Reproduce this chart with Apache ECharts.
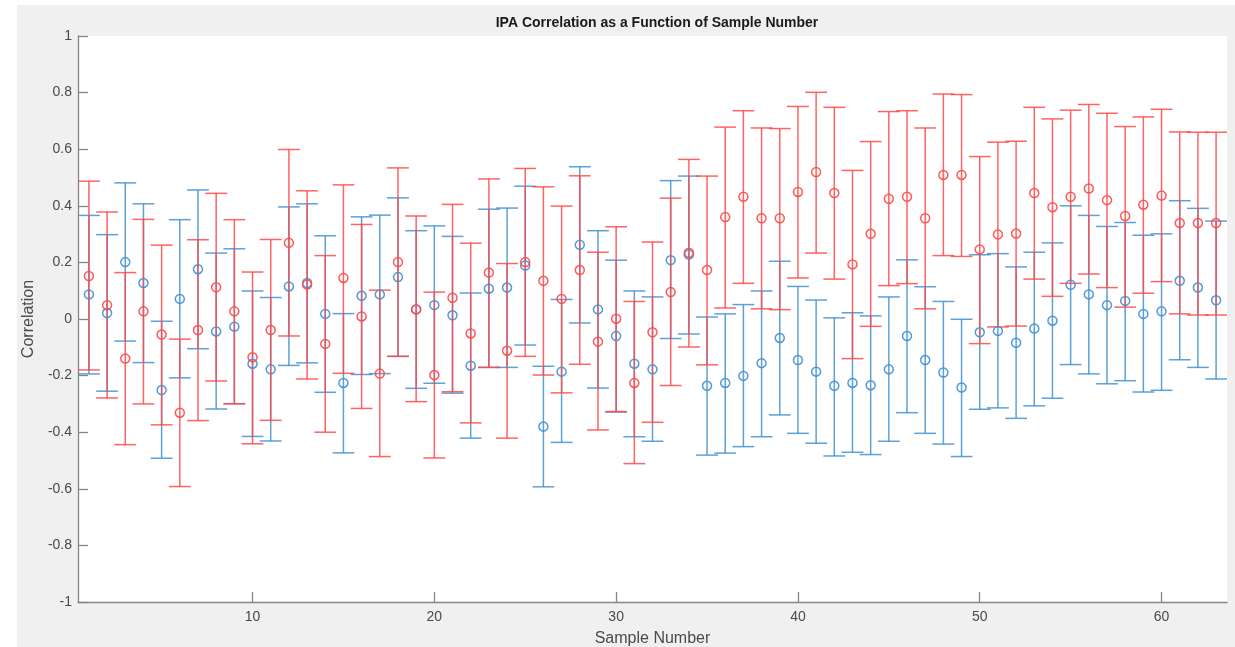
<!DOCTYPE html>
<html>
<head>
<meta charset="utf-8">
<title>IPA Correlation as a Function of Sample Number</title>
<script src="https://cdn.jsdelivr.net/npm/echarts@6/dist/echarts.min.js"></script>
<style>
  html, body { margin: 0; padding: 0; background: #ffffff; }
  #figure { position: absolute; left: 17px; top: 5px; width: 1218px; height: 642px; background: #f0f0f0; }
  #chart { position: absolute; left: 0; top: 0; width: 1235px; height: 647px; }
</style>
</head>
<body>
<div id="figure"></div>
<div id="chart"></div>
<script>
// Sample numbers 1..63
const sampleNumbers = [
  1, 2, 3, 4, 5, 6, 7, 8, 9, 10, 11, 12, 13, 14, 15, 16, 17, 18, 19, 20, 21,
  22, 23, 24, 25, 26, 27, 28, 29, 30, 31, 32, 33, 34, 35, 36, 37, 38, 39, 40, 41, 42,
  43, 44, 45, 46, 47, 48, 49, 50, 51, 52, 53, 54, 55, 56, 57, 58, 59, 60, 61, 62, 63
];

// Blue series: mean correlation with lower / upper bounds
const blueMean = [
  0.087, 0.021, 0.201, 0.127, -0.251, 0.071, 0.176, -0.044, -0.027, -0.158,
  -0.178, 0.115, 0.127, 0.018, -0.226, 0.082, 0.087, 0.148, 0.034, 0.049,
  0.013, -0.165, 0.107, 0.111, 0.189, -0.380, -0.186, 0.262, 0.034, -0.060,
  -0.158, -0.178, 0.208, 0.228, -0.236, -0.226, -0.201, -0.156, -0.067, -0.145,
  -0.186, -0.236, -0.226, -0.234, -0.178, -0.060, -0.145, -0.189, -0.242, -0.047,
  -0.042, -0.084, -0.034, -0.006, 0.121, 0.087, 0.049, 0.064, 0.018, 0.027,
  0.135, 0.111, 0.066
];
const blueLower = [
  -0.194, -0.255, -0.078, -0.154, -0.492, -0.208, -0.105, -0.318, -0.299, -0.415,
  -0.431, -0.164, -0.155, -0.259, -0.473, -0.196, -0.193, -0.132, -0.245, -0.227,
  -0.262, -0.421, -0.171, -0.171, -0.092, -0.593, -0.436, -0.014, -0.244, -0.329,
  -0.416, -0.432, -0.069, -0.053, -0.481, -0.474, -0.451, -0.416, -0.339, -0.404,
  -0.439, -0.484, -0.471, -0.479, -0.432, -0.331, -0.404, -0.442, -0.486, -0.319,
  -0.314, -0.351, -0.307, -0.280, -0.161, -0.194, -0.229, -0.218, -0.258, -0.252,
  -0.144, -0.171, -0.212
];
const blueUpper = [
  0.366, 0.298, 0.481, 0.407, -0.008, 0.351, 0.456, 0.233, 0.248, 0.099,
  0.076, 0.396, 0.407, 0.294, 0.019, 0.361, 0.367, 0.428, 0.312, 0.329,
  0.292, 0.092, 0.388, 0.392, 0.469, -0.167, 0.069, 0.538, 0.312, 0.208,
  0.099, 0.078, 0.489, 0.505, 0.007, 0.018, 0.051, 0.099, 0.204, 0.115,
  0.067, 0.004, 0.022, 0.011, 0.078, 0.209, 0.114, 0.062, -0.001, 0.227,
  0.231, 0.184, 0.236, 0.269, 0.400, 0.366, 0.327, 0.341, 0.296, 0.301,
  0.418, 0.391, 0.346
];

// Red series: mean correlation with lower / upper bounds
const redMean = [
  0.152, 0.049, -0.140, 0.027, -0.055, -0.331, -0.039, 0.112, 0.027, -0.135,
  -0.039, 0.269, 0.122, -0.088, 0.145, 0.009, -0.193, 0.201, 0.034, -0.198,
  0.075, -0.051, 0.164, -0.112, 0.201, 0.135, 0.071, 0.173, -0.080, 0.001,
  -0.226, -0.047, 0.095, 0.234, 0.173, 0.360, 0.432, 0.356, 0.356, 0.449,
  0.519, 0.445, 0.193, 0.301, 0.425, 0.432, 0.356, 0.509, 0.509, 0.246,
  0.299, 0.302, 0.445, 0.395, 0.432, 0.461, 0.420, 0.364, 0.404, 0.436,
  0.339, 0.339, 0.339
];
const redLower = [
  -0.180, -0.279, -0.444, -0.300, -0.374, -0.592, -0.359, -0.219, -0.300, -0.441,
  -0.358, -0.060, -0.212, -0.400, -0.192, -0.316, -0.486, -0.132, -0.292, -0.491,
  -0.257, -0.367, -0.171, -0.421, -0.132, -0.198, -0.261, -0.160, -0.392, -0.327,
  -0.511, -0.365, -0.235, -0.099, -0.162, 0.039, 0.126, 0.036, 0.033, 0.145,
  0.233, 0.141, -0.140, -0.026, 0.118, 0.125, 0.036, 0.224, 0.221, -0.087,
  -0.028, -0.025, 0.141, 0.080, 0.126, 0.159, 0.111, 0.042, 0.091, 0.132,
  0.018, 0.014, 0.014
];
const redUpper = [
  0.487, 0.378, 0.164, 0.352, 0.261, -0.071, 0.280, 0.444, 0.351, 0.166,
  0.281, 0.599, 0.453, 0.224, 0.474, 0.334, 0.102, 0.534, 0.364, 0.095,
  0.405, 0.268, 0.495, 0.196, 0.532, 0.467, 0.399, 0.506, 0.236, 0.326,
  0.062, 0.272, 0.427, 0.564, 0.505, 0.678, 0.736, 0.675, 0.673, 0.751,
  0.801, 0.748, 0.525, 0.627, 0.733, 0.736, 0.675, 0.795, 0.793, 0.574,
  0.625, 0.628, 0.748, 0.707, 0.738, 0.758, 0.727, 0.680, 0.714, 0.741,
  0.661, 0.660, 0.660
];

// Axis tick labels
const xTickValues = [10, 20, 30, 40, 50, 60];
const yTickValues = [-1, -0.8, -0.6, -0.4, -0.2, 0, 0.2, 0.4, 0.6, 0.8, 1];

const BLUE = '#3f90d1';
const RED = '#ff4848';
const AXIS_GRAY = '#858585';
const LABEL_GRAY = '#4a4a4a';
const FONT = '"Liberation Sans", Arial, Helvetica, sans-serif';
const CAP_HALF = 0.6; // half-width of the error bar caps, in sample units

function errorBarSeries(name, color, lower, upper) {
  return {
    name: name,
    type: 'custom',
    silent: true,
    data: sampleNumbers.map((x, i) => [x, lower[i], upper[i]]),
    encode: { x: 0, y: [1, 2] },
    renderItem: function (params, api) {
      const x = api.value(0);
      const lo = api.value(1);
      const hi = api.value(2);
      const pLo = api.coord([x, lo]);
      const pHi = api.coord([x, hi]);
      const pLoL = api.coord([x - CAP_HALF, lo]);
      const pLoR = api.coord([x + CAP_HALF, lo]);
      const pHiL = api.coord([x - CAP_HALF, hi]);
      const pHiR = api.coord([x + CAP_HALF, hi]);
      const style = { stroke: color, lineWidth: 1.5, opacity: 0.85 };
      return {
        type: 'group',
        children: [
          { type: 'line', shape: { x1: pLo[0], y1: pLo[1], x2: pHi[0], y2: pHi[1] }, style: style },
          { type: 'line', shape: { x1: pLoL[0], y1: pLoL[1], x2: pLoR[0], y2: pLoR[1] }, style: style },
          { type: 'line', shape: { x1: pHiL[0], y1: pHiL[1], x2: pHiR[0], y2: pHiR[1] }, style: style }
        ]
      };
    },
    z: 2
  };
}

// Hollow circle markers at the mean values
function meanSeries(name, color, values) {
  return {
    name: name,
    type: 'scatter',
    silent: true,
    data: sampleNumbers.map((x, i) => [x, values[i]]),
    symbol: 'circle',
    symbolSize: 9,
    itemStyle: { color: 'rgba(255,255,255,0)', borderColor: color, borderWidth: 1.5, opacity: 0.9 },
    z: 3
  };
}

const chart = echarts.init(document.getElementById('chart'), null, { renderer: 'canvas' });

chart.setOption({
  animation: false,
  backgroundColor: 'transparent',
  title: {
    text: 'IPA Correlation as a Function of Sample Number',
    left: 652,
    top: 11,
    textAlign: 'center',
    textStyle: { fontFamily: FONT, fontSize: 14, fontWeight: 'bold', color: '#1a1a1a' }
  },
  grid: {
    show: true,
    left: 78,
    top: 36,
    right: 8,
    bottom: 45,
    outerBoundsMode: 'none',
    containLabel: false,
    backgroundColor: '#ffffff',
    borderWidth: 0
  },
  xAxis: {
    type: 'value',
    min: 0.4,
    max: 63.6,
    name: 'Sample Number',
    nameLocation: 'middle',
    nameGap: 29,
    nameTextStyle: { fontFamily: FONT, fontSize: 16, color: LABEL_GRAY },
    axisLine: { show: true, onZero: false, lineStyle: { color: AXIS_GRAY, width: 1.3 } },
    axisTick: { show: true, inside: true, length: 10, customValues: xTickValues, lineStyle: { color: AXIS_GRAY, width: 1.3 } },
    axisLabel: { customValues: xTickValues, fontFamily: FONT, fontSize: 14, color: LABEL_GRAY, margin: 8 },
    splitLine: { show: false }
  },
  yAxis: {
    type: 'value',
    min: -1,
    max: 1,
    interval: 0.2,
    name: 'Correlation',
    nameLocation: 'middle',
    nameGap: 36,
    nameRotate: 90,
    nameTextStyle: { fontFamily: FONT, fontSize: 16, color: LABEL_GRAY },
    axisLine: { show: true, onZero: false, lineStyle: { color: AXIS_GRAY, width: 1.3 } },
    axisTick: { show: true, inside: true, length: 10, customValues: yTickValues, lineStyle: { color: AXIS_GRAY, width: 1.3 } },
    axisLabel: {
      customValues: yTickValues,
      fontFamily: FONT,
      fontSize: 14,
      color: LABEL_GRAY,
      margin: 6,
      formatter: v => String(Number(v.toFixed(1)))
    },
    splitLine: { show: false }
  },
  series: [
    errorBarSeries('blueBars', BLUE, blueLower, blueUpper),
    meanSeries('blueMean', BLUE, blueMean),
    errorBarSeries('redBars', RED, redLower, redUpper),
    meanSeries('redMean', RED, redMean)
  ]
});
</script>
</body>
</html>
